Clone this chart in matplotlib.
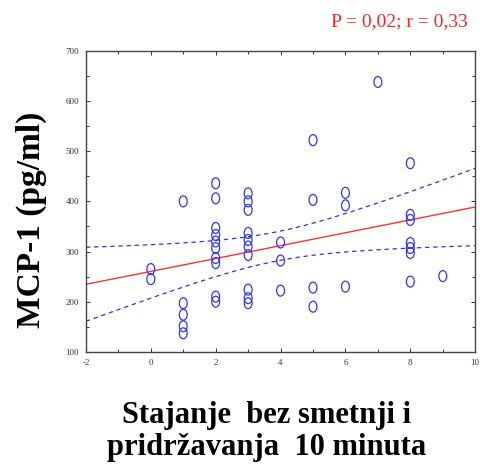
import numpy as np
import matplotlib.pyplot as plt
from matplotlib.path import Path
from matplotlib.ticker import MultipleLocator

plt.rcParams['axes.unicode_minus'] = False

# standing time (x) and MCP-1 values
x_vals = [0, 0,
          1, 1, 1, 1, 1,
          2, 2, 2, 2, 2, 2, 2, 2, 2, 2,
          3, 3, 3, 3, 3, 3, 3, 3, 3, 3,
          4, 4, 4,
          5, 5, 5, 5,
          6, 6, 6,
          7,
          8, 8, 8, 8, 8, 8, 8,
          9]
mcp1 = [265, 245,
        400, 197, 174, 151, 137,
        436, 406, 347, 333, 320, 307, 287, 277, 210, 200,
        416, 400, 383, 337, 323, 310, 293, 224, 207, 197,
        318, 282, 222,
        522, 403, 228, 190,
        417, 392, 230,
        638,
        476, 373, 363, 317, 307, 297, 240,
        251]
stat_text = "P = 0,02; r = 0,33"
x_label = "Stajanje  bez smetnji i\npridržavanja  10 minuta"
y_label = "MCP-1 (pg/ml)"

x = np.array(x_vals, dtype=float)
y = np.array(mcp1, dtype=float)

# linear fit with 95% confidence band of the mean
n = len(x)
slope, intercept = np.polyfit(x, y, 1)
resid = y - (intercept + slope * x)
s = np.sqrt(np.sum(resid ** 2) / (n - 2))
sxx = np.sum((x - x.mean()) ** 2)
t_crit = 2.017
xs = np.linspace(-2, 10, 200)
ys = intercept + slope * xs
half = t_crit * s * np.sqrt(1.0 / n + (xs - x.mean()) ** 2 / sxx)

# tall open ellipse marker like the original
circ = Path.unit_circle()
oval = Path(circ.vertices * np.array([0.72, 1.0]), circ.codes)

fig = plt.figure(figsize=(4.8, 4.71), dpi=100)
ax = fig.add_axes([0.179, 0.253, 0.811, 0.639])

ax.scatter(x, y, s=62, marker=oval, facecolors='none', edgecolors='#3333ff',
           linewidths=0.9, zorder=3)
ax.plot(xs, ys, color='#ff3333', lw=1.0)
ax.plot(xs, ys + half, color='#3333ee', lw=0.9, ls=(0, (3.5, 3)))
ax.plot(xs, ys - half, color='#3333ee', lw=0.9, ls=(0, (3.5, 3)))

ax.set_xlim(-2, 10)
ax.set_ylim(100, 700)
ax.xaxis.set_major_locator(MultipleLocator(2))
ax.xaxis.set_minor_locator(MultipleLocator(1))
ax.yaxis.set_major_locator(MultipleLocator(100))
ax.yaxis.set_minor_locator(MultipleLocator(50))
ax.tick_params(which='both', direction='in', top=True, right=True,
               labelsize=6.5, width=0.7, color='#333333', labelcolor='#333333')
ax.tick_params(which='major', length=3, pad=5)
ax.tick_params(which='minor', length=2)
for lab in ax.get_xticklabels() + ax.get_yticklabels():
    lab.set_family('Liberation Serif')
for sp in ax.spines.values():
    sp.set_color('#444444')
    sp.set_linewidth(1.0)

fig.text(0.065, 0.533, y_label, family='Liberation Serif', fontweight='bold',
         fontsize=24, rotation=90, ha='center', va='center')
fig.text(0.556, 0.084, x_label, family='Liberation Serif', fontweight='bold',
         fontsize=22, ha='center', va='center', linespacing=1.15)
fig.text(0.975, 0.955, stat_text, color='#ff2222', family='Liberation Serif',
         fontsize=14, ha='right', va='center')

fig.savefig('out.png', dpi=100)
